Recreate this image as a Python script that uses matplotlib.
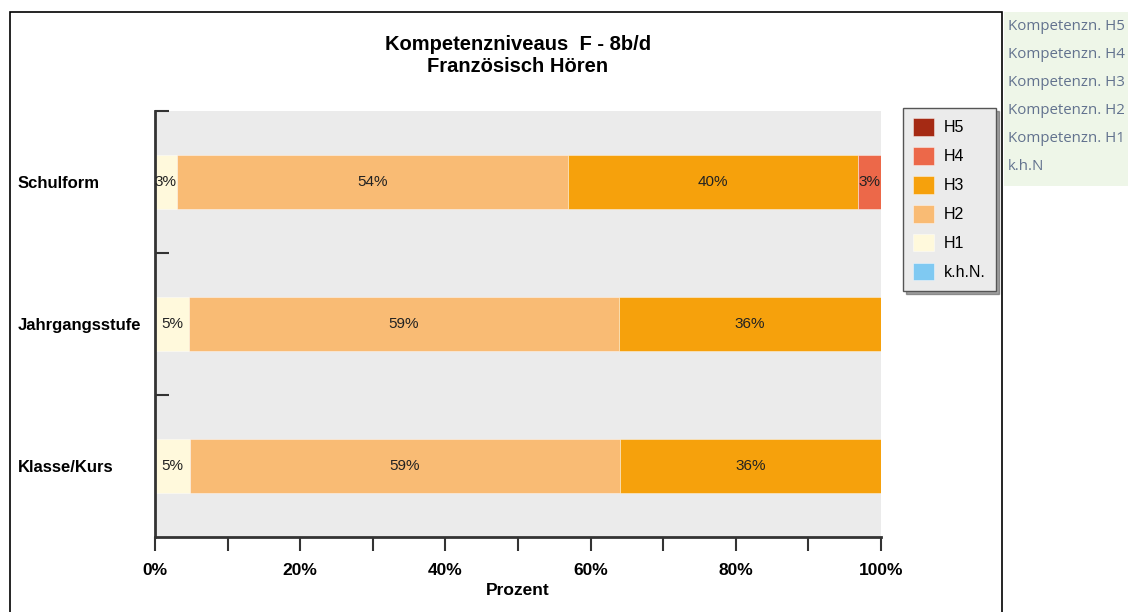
import numpy as np
import matplotlib.pyplot as plt
from matplotlib.patches import Rectangle

plt.rcParams['font.family'] = ['Liberation Sans', 'DejaVu Sans']

# Data (percent per group)
groups = ["Schulform", "Jahrgangsstufe", "Klasse/Kurs"]
levels = ["k.h.N.", "H1", "H2", "H3", "H4", "H5"]
khn = [0.0, 0.0, 0.0]
h1 = [3.0, 4.7, 4.8]
h2 = [53.9, 59.2, 59.2]
h3 = [40.0, 36.1, 36.0]
h4 = [3.1, 0.0, 0.0]
h5 = [0.0, 0.0, 0.0]
side_items = ["Kompetenzn. H5", "Kompetenzn. H4", "Kompetenzn. H3",
              "Kompetenzn. H2", "Kompetenzn. H1", "k.h.N"]

colors = {"k.h.N.": "#7FC9F2", "H1": "#FFF9DC", "H2": "#F9BB74",
          "H3": "#F6A10C", "H4": "#EC6849", "H5": "#A52A14"}

W, H = 1128, 612
fig = plt.figure(figsize=(W / 100, H / 100), dpi=100)

# outer frame and side panel
fig.patches.append(Rectangle((10 / W, -0.05), (1002 - 10) / W, 1.05 - 12 / H,
                             transform=fig.transFigure, fill=False,
                             edgecolor="black", linewidth=1.2))
fig.patches.append(Rectangle((1004 / W, 1 - 186 / H), (W - 1004) / W, 174 / H,
                             transform=fig.transFigure, facecolor="#EEF6E8",
                             edgecolor="none"))
for i, s in enumerate(side_items):
    fig.text(1008 / W, 1 - (27 + 28 * i) / H, s, fontsize=10.8, color="#62728E",
             ha="left", va="center", family=["Open Sans", "DejaVu Sans"])

ax = fig.add_axes([155 / W, 1 - 537 / H, (881 - 155) / W, (537 - 111) / H])
ax.set_facecolor("#EBEBEB")

y = np.arange(len(groups))[::-1]
series = {"k.h.N.": khn, "H1": h1, "H2": h2, "H3": h3, "H4": h4, "H5": h5}
left = np.zeros(len(groups))
bars = {}
for name in levels:
    vals = np.array(series[name])
    bars[name] = ax.barh(y, vals, left=left, height=0.38, color=colors[name],
                         edgecolor="#FFFFFF80", linewidth=0.6, label=name)
    for yi, l, v in zip(y, left, vals):
        if v > 0:
            ax.text(l + v / 2, yi, f"{round(v)}%", ha="center", va="center",
                    fontsize=11, color="#222222")
    left += vals

ax.set_xlim(0, 100)
ax.set_ylim(-0.5, 2.5)
ax.set_xticks(np.arange(0, 101, 20))
ax.set_xticks(np.arange(0, 101, 10), minor=True)
ax.set_xticklabels([f"{v}%" for v in range(0, 101, 20)], fontsize=12.5,
                   fontweight="bold")
ax.tick_params(axis="x", which="both", length=10, width=1.5, color="#333333",
               direction="out", pad=9)
ax.set_xlabel("Prozent", fontsize=12.5, fontweight="bold", labelpad=3)

ax.set_yticks(y)
ax.set_yticklabels(groups, fontsize=12, fontweight="bold", ha="left")
ax.set_yticks([0.5, 1.5, 2.5], minor=True)
ax.tick_params(axis="y", which="major", length=0, pad=(155 - 18) * 0.72)
ax.tick_params(axis="y", which="minor", length=10, width=1.5,
               color="#333333", direction="in")

for s in ["top", "right"]:
    ax.spines[s].set_visible(False)
for s in ["left", "bottom"]:
    ax.spines[s].set_linewidth(2)
    ax.spines[s].set_color("#333333")

ax.set_title("Kompetenzniveaus  F - 8b/d\nFranzösisch Hören", fontsize=14.5,
             fontweight="bold", pad=28, linespacing=1.2)

handles = [bars[n] for n in ["H5", "H4", "H3", "H2", "H1", "k.h.N."]]
leg = fig.legend(handles, ["H5", "H4", "H3", "H2", "H1", "k.h.N."],
                 loc="upper left", bbox_to_anchor=(903 / W, 1 - 108 / H),
                 borderaxespad=0, fontsize=11.5, frameon=True, fancybox=False,
                 shadow=True, handlelength=1.3, handleheight=1.3,
                 labelspacing=0.72, borderpad=0.65, handletextpad=0.6)
leg.get_frame().set_facecolor("#EBEBEB")
leg.get_frame().set_edgecolor("#555555")

fig.savefig("out.png", dpi=100)
